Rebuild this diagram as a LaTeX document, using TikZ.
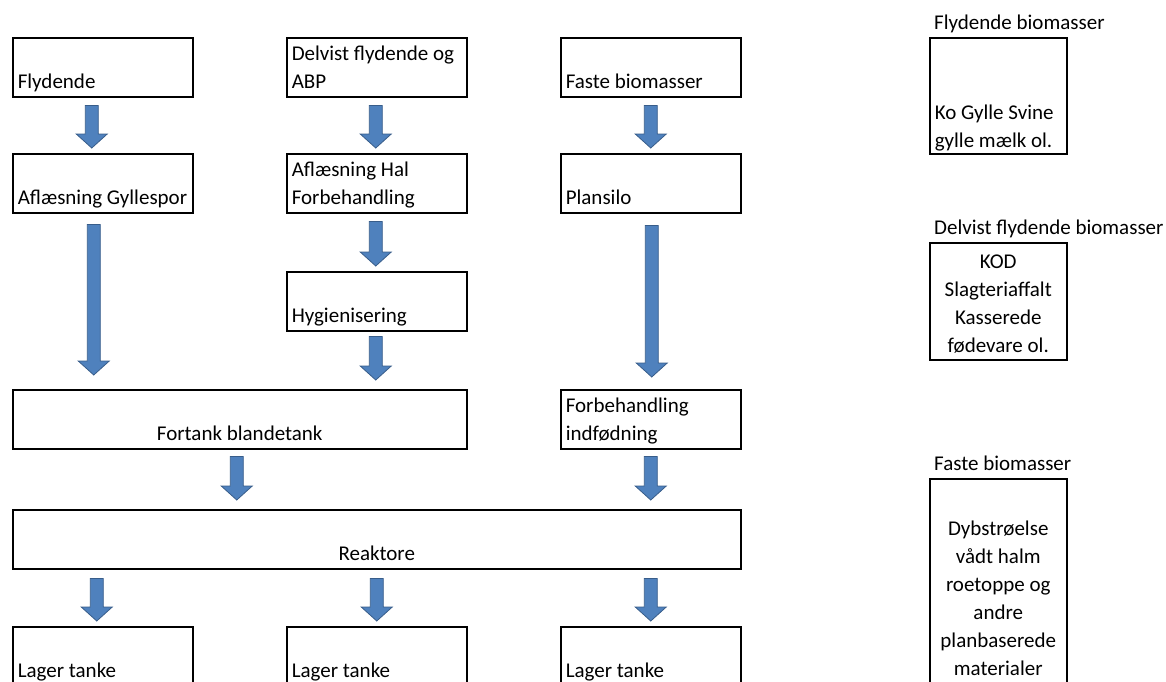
\documentclass[tikz,border=0pt]{standalone}
\usepackage{fontspec}
\setmainfont{Carlito}
\usetikzlibrary{calc}

\definecolor{pilfyld}{HTML}{4F81BD}
\definecolor{pilkant}{HTML}{385D8A}

\tikzset{
  bw/.store in=\boxw, bh/.store in=\boxh, boff/.store in=\boxoff, balign/.store in=\boxalign,
  bw=170pt, bh=59pt, boff=8pt, balign=\raggedright,
  box/.style={draw, line width=1.5pt, inner xsep=5pt, inner ysep=0pt, anchor=north west,
    execute at begin node={\begin{minipage}[c][\boxh][b]{\boxw}\boxalign},
    execute at end node={\par\kern\dimexpr\boxoff-\prevdepth\relax\end{minipage}}},
  titel/.style={inner sep=0pt, anchor=base west},
  pil/.style={draw=pilkant, fill=pilfyld, line width=0.8pt, to path={
    let \p1=(\tikztostart), \p2=(\tikztotarget) in
    (\x1-6.5pt,\y1-8pt) -- (\x1+6.5pt,\y1-8pt) -- (\x1+6.5pt,\y2+19pt)
    -- (\x1+15.5pt,\y2+19pt) -- (\x1,\y2+5pt) -- (\x1-15.5pt,\y2+19pt)
    -- (\x1-6.5pt,\y2+19pt) -- cycle}}
}

\begin{document}
\begin{tikzpicture}[x=1pt, y=1pt, font=\fontsize{21}{28}\selectfont]

\useasboundingbox (0,0) rectangle (1166,-681);
\clip (0,0) rectangle (1166,-681);

\node[box] (fly) at (12,-37) {Flydende};
\node[box] (delv) at (286,-37) {Delvist flydende og\par ABP};
\node[box] (fast) at (560,-37) {Faste biomasser};

\node[box] (afl) at (12,-153) {Afl\ae sning Gyllespor};
\node[box] (hal) at (286,-153) {Afl\ae sning Hal\par Forbehandling};
\node[box] (plan) at (560,-153) {Plansilo};

\node[box] (hyg) at (286,-271) {Hygienisering};

\node[box, bw=444pt, balign=\centering] (fort) at (12,-389) {Fortank blandetank};
\node[box] (forb) at (560,-389) {Forbehandling\par indf\o dning};

\node[box, bw=718pt, balign=\centering] (reak) at (12,-509) {Reaktore};

\node[box] (lag1) at (12,-626) {Lager tanke};
\node[box] (lag2) at (286,-626) {Lager tanke};
\node[box] (lag3) at (560,-626) {Lager tanke};

\draw[pil] ([xshift=-11pt]fly.south) to (afl.north);
\draw[pil] ([xshift=-1pt]delv.south) to (hal.north);
\draw[pil] (fast.south) to (plan.north);
\draw[pil] ([xshift=-9pt,yshift=-3pt]afl.south) to ([yshift=9pt]fort.north);
\draw[pil] ([xshift=-1pt]hal.south) to (hyg.north);
\draw[pil] ([xshift=1pt,yshift=-4pt]plan.south) to ([yshift=7pt]forb.north);
\draw[pil] ([xshift=-1pt,yshift=3pt]hyg.south) to ([yshift=4pt]fort.north);
\draw[pil] ([xshift=-3pt,yshift=1pt]fort.south) to ([yshift=4pt]reak.north);
\draw[pil] ([yshift=1pt]forb.south) to ([yshift=4pt]reak.north);
\draw[pil] ($(reak.south -| lag1.north)+(-6,-1)$) to (lag1.north);
\draw[pil] ($(reak.south -| lag2.north)+(0,-1)$) to (lag2.north);
\draw[pil] ($(reak.south -| lag3.north)+(0,-1)$) to (lag3.north);

\node[box, bw=127pt, bh=116pt, boff=6pt] (kfly) at (929,-37) {Ko Gylle Svine\par gylle m\ae lk ol.};
\node[titel] (tfly) at ([shift={(5,8)}]kfly.north west) {Flydende biomasser};

\node[box, bw=127pt, bh=117pt, boff=7pt, balign=\centering] (kdel) at (929,-242) {KOD\par Slagteriaffalt\par Kasserede\par f\o devare ol.};
\node[titel] (tdel) at ([shift={(5,8)}]kdel.north west) {Delvist flydende biomasser};

\node[box, bw=127pt, bh=212pt, boff=15pt, balign=\centering] (kfas) at (929,-478) {Dybstr\o else\par v\aa dt halm\par roetoppe og\par andre\par planbaserede\par materialer};
\node[titel] (tfas) at ([shift={(5,8)}]kfas.north west) {Faste biomasser};

\end{tikzpicture}
\end{document}
